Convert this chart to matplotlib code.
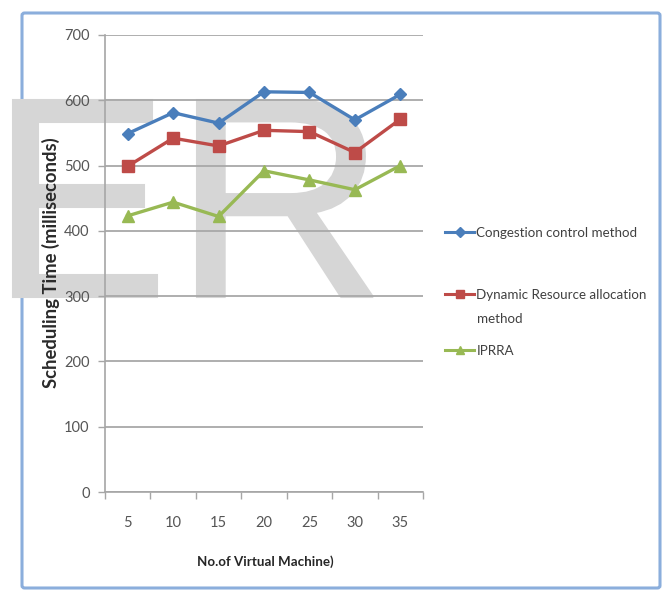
import matplotlib
matplotlib.use("Agg")
import matplotlib.pyplot as plt
from matplotlib.patches import FancyBboxPatch, PathPatch
from matplotlib.lines import Line2D
from matplotlib.textpath import TextPath
from matplotlib.font_manager import FontProperties
from matplotlib.transforms import Affine2D

# Data
machines = ["5", "10", "15", "20", "25", "30", "35"]
congestion = [549, 581, 565, 613, 612, 570, 609]
dynamic = [499, 542, 530, 554, 552, 520, 571]
iprra = [423, 444, 422, 492, 478, 463, 500]
series_names = ["Congestion control method",
                "Dynamic Resource allocation method",
                "IPRRA"]
y_ticks = [0, 100, 200, 300, 400, 500, 600, 700]

colors = ["#4A7EBB", "#BE4B48", "#98B954"]
markers = ["D", "s", "^"]
msizes = [6.5, 8, 8]

W, H = 667, 600
fig = plt.figure(figsize=(W / 100, H / 100), dpi=100)
fig.patch.set_facecolor("white")

def fx(px):
    return px / W

def fy(py):
    return 1 - py / H

# Outer chart border
border = FancyBboxPatch((fx(22), fy(588)), fx(660) - fx(22), fy(13) - fy(588),
                        boxstyle="round,pad=0,rounding_size=0.004",
                        transform=fig.transFigure, facecolor="none",
                        edgecolor="#8BAEDC", linewidth=2.2, zorder=0)
fig.patches.append(border)

# Watermark letters, each glyph fitted into a pixel box
def watermark_glyph(ch, x0, x1, ytop, ybot):
    tp = TextPath((0, 0), ch, size=100,
                  prop=FontProperties(family="Liberation Sans"))
    ext = tp.get_extents()
    sx = (x1 - x0) / ext.width
    sy = (ybot - ytop) / ext.height
    tr = (Affine2D().translate(-ext.x0, -ext.y0).scale(sx, sy)
          .translate(x0, H - ybot).scale(1 / W, 1 / H)) + fig.transFigure
    patch = PathPatch(tp, transform=tr, facecolor="#D6D6D6", edgecolor="#D6D6D6",
                      linewidth=1.5, zorder=0.5)
    fig.add_artist(patch)

watermark_glyph("E", 13, 157, 100, 297)
watermark_glyph("R", 197, 373, 100, 297)

ax = fig.add_axes([fx(105), fy(492), fx(423) - fx(105), fy(35) - fy(492)])
ax.patch.set_alpha(0)
ax.set_zorder(1)

x = list(range(1, len(machines) + 1))
for vals, c, m, ms, name in zip([congestion, dynamic, iprra], colors, markers, msizes, series_names):
    ax.plot(x, vals, color=c, marker=m, markersize=ms, linewidth=2.4,
            markerfacecolor=c, markeredgecolor=c, label=name, zorder=3)

ax.set_xlim(0.5, len(machines) + 0.5)
ax.set_ylim(0, 700)
ax.set_yticks(y_ticks)
ax.set_yticklabels([str(v) for v in y_ticks])
ax.set_xticks(x)
ax.set_xticklabels(machines)
ax.set_xticks([i + 0.5 for i in range(0, len(machines) + 1)], minor=True)

for lab in ax.get_yticklabels() + ax.get_xticklabels():
    lab.set_fontfamily("Lato")
    lab.set_fontsize(10.5)
    lab.set_color("#555555")

ax.tick_params(axis="x", which="major", length=0, pad=17)
ax.tick_params(axis="x", which="minor", length=5, width=1, color="#A6A6A6")
ax.tick_params(axis="y", which="major", length=5, width=1, color="#A6A6A6", pad=6)

ax.grid(axis="y", color="#A8A8A8", linewidth=1.3, zorder=1)
ax.set_axisbelow(True)
for s in ["top", "right"]:
    ax.spines[s].set_visible(False)
for s in ["left", "bottom"]:
    ax.spines[s].set_color("#A6A6A6")
    ax.spines[s].set_linewidth(1.2)

fig.text(fx(51), fy(263), "Scheduling Time (milliseconds)", rotation=90,
         ha="center", va="center", family="Lato", fontweight="bold",
         fontsize=13.3, color="#2A2A2A")
fig.text(fx(265), fy(562), "No.of Virtual Machine)", ha="center", va="center",
         family="Lato", fontweight="bold", fontsize=9.6, color="#262626")

# Legend entries
handles = [Line2D([], [], color=c, marker=m, markersize=ms * 0.8, linewidth=2.2,
                  markerfacecolor=c, markeredgecolor=c)
           for c, m, ms in zip(colors, markers, msizes)]
leg_labels = ["Congestion control method", "Dynamic Resource allocation", "IPRRA"]
leg_y = [233, 295, 351]
for h, lab, yy in zip(handles, leg_labels, leg_y):
    lg = fig.legend([h], [lab], loc="center left", bbox_to_anchor=(fx(445), fy(yy)),
                    frameon=False, handlelength=2.2, handletextpad=0.15,
                    borderpad=0, borderaxespad=0,
                    prop={"family": "Lato", "size": 9.6})
    lg.get_texts()[0].set_color("#404040")
fig.text(fx(477), fy(319), "method", ha="left", va="center", family="Lato",
         fontsize=9.6, color="#404040")

fig.savefig("out.png", dpi=100, facecolor="white")
